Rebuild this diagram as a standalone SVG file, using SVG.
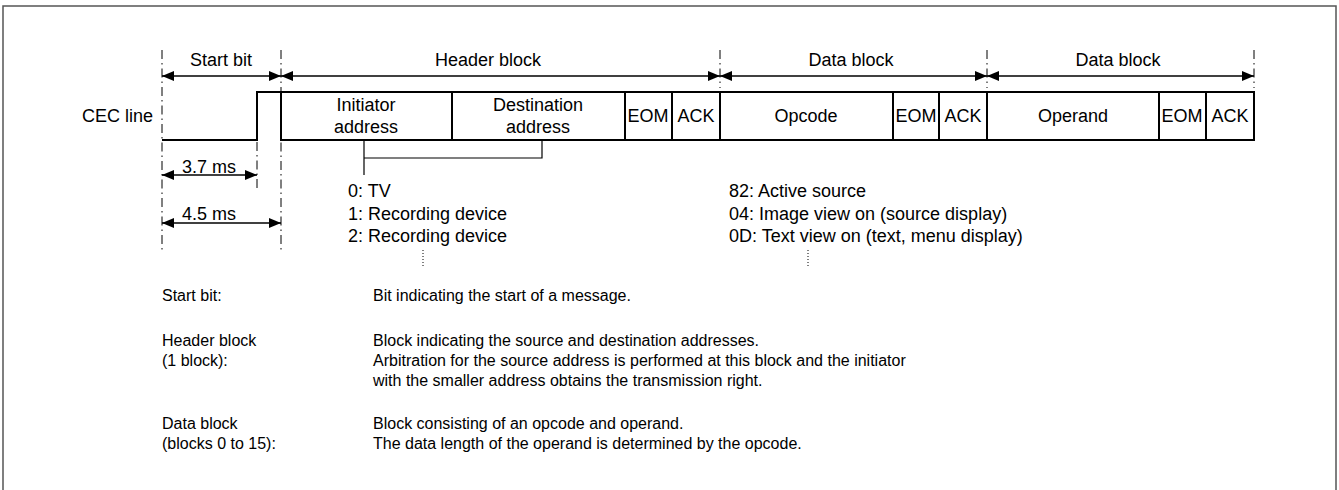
<svg xmlns="http://www.w3.org/2000/svg" width="1339" height="490" viewBox="0 0 1339 490">
<style>
text{font-family:"Liberation Sans",Arial,sans-serif;fill:#000}
.t{font-size:18px}
.m{text-anchor:middle}
.b{font-size:16px}
.wave{fill:none;stroke:#000;stroke-width:2}
.div{stroke:#000;stroke-width:2}
.dd{stroke:#000;stroke-width:1;stroke-dasharray:9 4 1.5 4;fill:none}
.dot{stroke:#000;stroke-width:1;stroke-dasharray:1 2;fill:none}
.arr{stroke:#000;stroke-width:1.5;fill:none;marker-start:url(#ah);marker-end:url(#ah)}
.br{stroke:#000;stroke-width:1.2;fill:none}
</style>
<defs>
<marker id="ah" viewBox="0 0 12 10" refX="12" refY="5" markerWidth="12" markerHeight="10" markerUnits="userSpaceOnUse" orient="auto-start-reverse"><path d="M0,0 L12,5 L0,10 z" fill="#000"/></marker>
</defs>
<rect x="3" y="6" width="1333" height="500" fill="#fff" stroke="#555" stroke-width="1.5"/>

<g id="guides">
<line class="dd" x1="162" y1="50" x2="162" y2="252"/>
<line class="dd" x1="281" y1="50" x2="281" y2="252"/>
<line class="dd" x1="257" y1="142" x2="257" y2="190"/>
<line class="dd" x1="720" y1="50" x2="720" y2="88"/>
<line class="dd" x1="987" y1="50" x2="987" y2="88"/>
<line class="dd" x1="1254" y1="50" x2="1254" y2="88"/>
</g>

<g id="connectors">
<line class="arr" x1="162" y1="76" x2="281" y2="76"/>
<line class="arr" x1="281" y1="76" x2="720" y2="76"/>
<line class="arr" x1="720" y1="76" x2="987" y2="76"/>
<line class="arr" x1="987" y1="76" x2="1254" y2="76"/>
<line class="arr" x1="162" y1="175" x2="257" y2="175"/>
<line class="arr" x1="162" y1="223" x2="281" y2="223"/>
<path class="br" d="M364,141 V175 M364,158 H542 V141"/>
<line class="dot" x1="423" y1="250" x2="423" y2="268"/>
<line class="dot" x1="808" y1="250" x2="808" y2="268"/>
</g>

<g id="labels-top">
<text class="t m" x="221" y="66">Start bit</text>
<text class="t m" x="488" y="66">Header block</text>
<text class="t m" x="851" y="66">Data block</text>
<text class="t m" x="1118" y="66">Data block</text>
<text class="t" x="153" y="122" text-anchor="end">CEC line</text>
<text class="t" x="182" y="173">3.7 ms</text>
<text class="t" x="182" y="220">4.5 ms</text>
</g>

<g id="cec-line">
<path class="wave" d="M162,140 H257 V92 H1254 V140 H281 V92"/>
<line class="div" x1="452" y1="92" x2="452" y2="140"/>
<line class="div" x1="625" y1="92" x2="625" y2="140"/>
<line class="div" x1="672" y1="92" x2="672" y2="140"/>
<line class="div" x1="720" y1="92" x2="720" y2="140"/>
<line class="div" x1="893" y1="92" x2="893" y2="140"/>
<line class="div" x1="939" y1="92" x2="939" y2="140"/>
<line class="div" x1="987" y1="92" x2="987" y2="140"/>
<line class="div" x1="1159" y1="92" x2="1159" y2="140"/>
<line class="div" x1="1206" y1="92" x2="1206" y2="140"/>
</g>
<g id="node-initiator"><text class="t m" x="366" y="111">Initiator</text><text class="t m" x="366" y="133">address</text></g>
<g id="node-destination"><text class="t m" x="538" y="111">Destination</text><text class="t m" x="538" y="133">address</text></g>
<g id="node-eom1"><text class="t m" x="648" y="122">EOM</text></g>
<g id="node-ack1"><text class="t m" x="696" y="122">ACK</text></g>
<g id="node-opcode"><text class="t m" x="806" y="122">Opcode</text></g>
<g id="node-eom2"><text class="t m" x="916" y="122">EOM</text></g>
<g id="node-ack2"><text class="t m" x="963" y="122">ACK</text></g>
<g id="node-operand"><text class="t m" x="1073" y="122">Operand</text></g>
<g id="node-eom3"><text class="t m" x="1182" y="122">EOM</text></g>
<g id="node-ack3"><text class="t m" x="1230" y="122">ACK</text></g>

<g id="address-list">
<text class="t" x="348" y="197">0: TV</text>
<text class="t" x="348" y="220">1: Recording device</text>
<text class="t" x="348" y="242">2: Recording device</text>
</g>
<g id="opcode-list">
<text class="t" x="729" y="197">82: Active source</text>
<text class="t" x="729" y="220">04: Image view on (source display)</text>
<text class="t" x="729" y="242">0D: Text view on (text, menu display)</text>
</g>

<g id="legend">
<text class="b" x="162" y="301">Start bit:</text>
<text class="b" x="373" y="301">Bit indicating the start of a message.</text>
<text class="b" x="162" y="346">Header block</text>
<text class="b" x="162" y="366">(1 block):</text>
<text class="b" x="373" y="346">Block indicating the source and destination addresses.</text>
<text class="b" x="373" y="366">Arbitration for the source address is performed at this block and the initiator</text>
<text class="b" x="373" y="386">with the smaller address obtains the transmission right.</text>
<text class="b" x="162" y="429">Data block</text>
<text class="b" x="162" y="449">(blocks 0 to 15):</text>
<text class="b" x="373" y="429">Block consisting of an opcode and operand.</text>
<text class="b" x="373" y="449">The data length of the operand is determined by the opcode.</text>
</g>
</svg>
